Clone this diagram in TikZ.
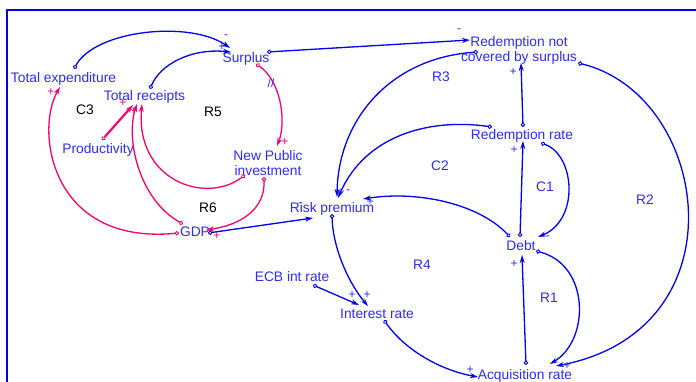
\documentclass[tikz,border=0pt]{standalone}
\usepackage{fontspec}
\setmainfont{Liberation Sans}
\usetikzlibrary{arrows.meta}
\definecolor{bl}{RGB}{0,0,235}
\definecolor{bt}{RGB}{45,45,245}
\definecolor{pk}{RGB}{245,0,110}
\begin{document}
\begin{tikzpicture}[x=1pt,y=-1pt,
  lbl/.style={text=bt,inner sep=0pt,font=\fontsize{13.8}{15}\selectfont,text height=10pt,text depth=0pt},
  loopb/.style={text=bt,inner sep=0pt,font=\fontsize{13.8}{15}\selectfont},
  loopk/.style={text=black,inner sep=0pt,font=\fontsize{13.8}{15}\selectfont},
  pol/.style={text=bt,inner sep=0pt,font=\fontsize{12}{12}\selectfont},
  polp/.style={text=pk,inner sep=0pt,font=\fontsize{12}{12}\selectfont},
  lk/.style={draw=bl,line width=1.3pt,{Circle[open,length=4.5pt,width=4.5pt,line width=0.9pt]}-{Stealth[length=8pt,width=5pt]}},
  lkp/.style={lk,draw=pk}]
\useasboundingbox (0,0) rectangle (696,381);
% frame
\draw[bl,line width=2pt] (7,390) -- (7,10) -- (700,10);

% variables
\node[lbl] (te) at (63.5,77) {Total expenditure};
\node[lbl] (tr) at (144.5,95) {Total receipts};
\node[lbl] (sp) at (246,57) {Surplus};
\node[lbl,align=center,text height=,text depth=] (rnc) at (519,50.5) {Redemption not\\covered by surplus};
\node[lbl] (rr) at (522,134) {Redemption rate};
\node[lbl] (pr) at (98,148) {Productivity};
\node[lbl,align=center,text height=,text depth=] (npi) at (268,163) {New Public\\investment};
\node[lbl] (rp) at (332,207) {Risk premium};
\node[lbl] (gdp) at (195,231) {GDP};
\node[lbl] (debt) at (521,245) {Debt};
\node[lbl] (ecb) at (292,276) {ECB int rate};
\node[lbl] (ir) at (377,313) {Interest rate};
\node[lbl] (ar) at (525,374) {Acquisition rate};

% loop labels
\node[loopk] (c3) at (85,110) {C3};
\node[loopk] (r5) at (213,112) {R5};
\node[loopk] (r6) at (208,208) {R6};
\node[loopb] (r3) at (441,77) {R3};
\node[loopb] (c2) at (440,166) {C2};
\node[loopb] (c1) at (545,187) {C1};
\node[loopb] (r2) at (645,200) {R2};
\node[loopb] (r4) at (422,265) {R4};
\node[loopb] (r1) at (549,298) {R1};

% connector end points
\coordinate (teS) at (74,69);   \coordinate (spA) at (230,48);
\coordinate (trS) at (150,89);  \coordinate (spB) at (231,52);
\coordinate (spS) at (267,52);  \coordinate (rncA) at (470,40);
\coordinate (rrS) at (523,127); \coordinate (rncB) at (521,63);
\coordinate (rncS) at (478,52); \coordinate (rpA) at (337,197);
\coordinate (rrS2) at (492,127);\coordinate (rpB) at (338,198);
\coordinate (debtS) at (510,237);\coordinate (rpC) at (363,199);
\coordinate (debtS2) at (520,237);\coordinate (rrA) at (523,141);
\coordinate (rrS3) at (541,143);\coordinate (debtA) at (538,237);
\coordinate (rncS2) at (578,63);\coordinate (arA) at (556,366);
\coordinate (debtS3) at (536,251);\coordinate (arB) at (550,364);
\coordinate (arS) at (526,365); \coordinate (debtB) at (522,255);
\coordinate (rpS) at (332,214); \coordinate (irA) at (368,306);
\coordinate (ecbS) at (313,285);\coordinate (irB) at (359,305);
\coordinate (irS) at (384,320); \coordinate (arC) at (478,377);
\coordinate (gdpS) at (208,233);\coordinate (rpD) at (313,218);
\coordinate (spS2) at (256,64); \coordinate (npiA) at (277,146);
\coordinate (npiS) at (245,175);\coordinate (trA) at (142,104);
\coordinate (gdpS2) at (183,224);\coordinate (trB) at (137,104);
\coordinate (prS) at (102,140); \coordinate (trC) at (133,105);
\coordinate (gdpS3) at (179,233);\coordinate (teA) at (60,87);
\coordinate (npiS2) at (264,177);\coordinate (gdpA) at (206,230);

% blue links
\draw[lk] (teS) .. controls (95,30) and (190,20) .. (spA);
\draw[lk] (trS) .. controls (160,65) and (190,48) .. (spB);
\draw[lk] (spS) -- (rncA);
\draw[lk] (rrS) -- (rncB);
\draw[lk] (rncS) .. controls (390,58) and (338,120) .. (rpA);
\draw[lk] (rrS2) .. controls (430,118) and (365,135) .. (rpB);
\draw[lk] (debtS) .. controls (480,205) and (420,190) .. (rpC);
\draw[lk] (debtS2) -- (rrA);
\draw[lk] (rrS3) .. controls (575,155) and (580,220) .. (debtA);
\draw[lk] (rncS2) .. controls (710,95) and (745,330) .. (arA);
\draw[lk] (debtS3) .. controls (590,265) and (590,340) .. (arB);
\draw[lk] (arS) -- (debtB);
\draw[lk] (rpS) .. controls (333,250) and (350,285) .. (irA);
\draw[lk] (ecbS) -- (irB);
\draw[lk] (irS) .. controls (405,350) and (440,370) .. (arC);
\draw[lk] (gdpS) -- (rpD);

% pink links
\draw[lkp] (spS2) .. controls (280,80) and (287,120) .. (npiA);
\draw[lkp] (npiS) .. controls (205,205) and (135,180) .. (trA);
\draw[lkp] (gdpS2) .. controls (140,200) and (125,140) .. (trB);
\draw[lkp,line width=2.2pt] (prS) -- (trC);
\draw[lkp] (gdpS3) .. controls (50,245) and (35,130) .. (teA);
\draw[lkp] (npiS2) .. controls (265,210) and (240,225) .. (gdpA);

% polarities
\node[pol] (p1) at (226,37) {-};
\node[pol] (p2) at (222,47) {+};
\node[pol] (p3) at (459,31) {-};
\node[pol] (p4) at (513,72) {+};
\node[pol] (p5) at (341,192) {+};
\node[pol] (p6) at (348,192) {-};
\node[pol] (p7) at (370,202) {+};
\node[pol] (p8) at (514,150) {+};
\node[pol] (p9) at (548,238) {-};
\node[pol] (p10) at (514,264) {+};
\node[pol] (p11) at (367,295) {+};
\node[pol] (p12) at (352,295) {+};
\node[pol] (p13) at (470,370) {+};
\node[pol] (p14) at (567,366) {+};
\node[pol] (p15) at (300,205) {-};
\node[pol] (dl) at (271,83) {//};
\node[polp] (q1) at (51,92) {+};
\node[polp] (q2) at (123,103) {+};
\node[polp] (q3) at (134,111) {+};
\node[polp] (q4) at (285,142) {+};
\node[polp] (q5) at (217,236) {+};
\end{tikzpicture}
\end{document}
